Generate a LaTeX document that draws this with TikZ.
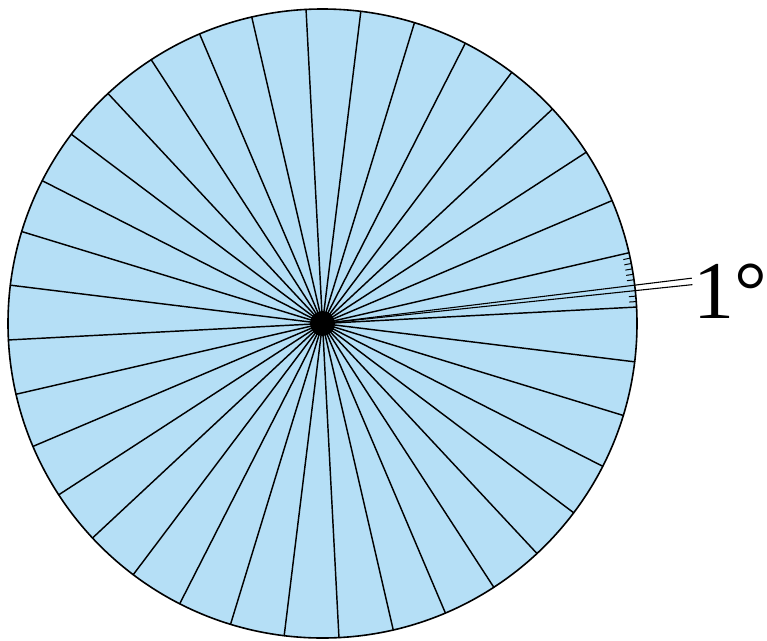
\documentclass[tikz,border=0pt]{standalone}
\usepackage{fontspec}
\newfontfamily\lserif{Liberation Serif}
\definecolor{disc}{RGB}{181,223,246}
\begin{document}
\begin{tikzpicture}[x=1pt,y=-1pt,
  spoke/.style={line width=1.45pt, line cap=round},
  wedgeline/.style={line width=1.1pt},
  tickmark/.style={line width=1pt},
  rim/.style={line width=1.6pt}]
\useasboundingbox (0,0) rectangle (767,640);
\coordinate (O) at (322.5,323.5);
\fill[disc] (O) circle (314.5);
\foreach \a in {3,13,...,353} \draw[spoke] (O) -- ++(-\a:314.5);
\foreach \a in {4,5,8,9,10,11,12} \draw[tickmark] (O) ++(-\a:307.5) -- ++(-\a:7);
\draw[wedgeline] (O) -- ++(-6:372);
\draw[wedgeline] (O) -- ++(-7:372);
\draw[rim] (O) circle (314.5);
\fill (O) circle (12.5);
\node[anchor=base west, inner sep=0, font=\lserif\fontsize{82}{90}\selectfont] (lbl) at (693,318) {1°};
\end{tikzpicture}
\end{document}
